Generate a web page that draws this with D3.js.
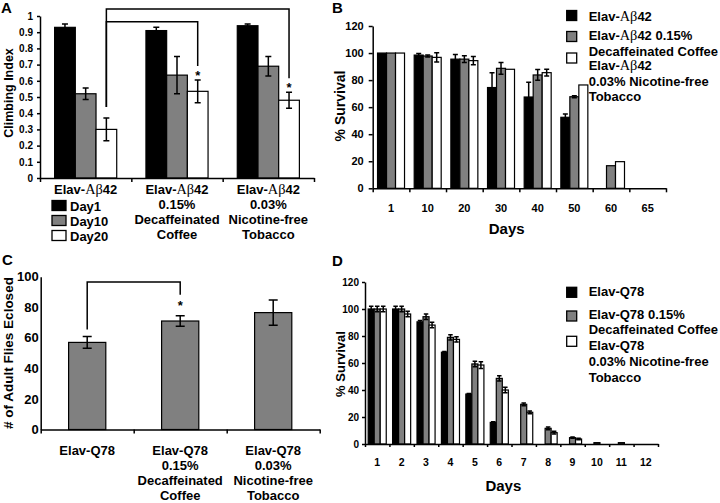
<!DOCTYPE html>
<html>
<head>
<meta charset="utf-8">
<script src="https://cdn.jsdelivr.net/npm/d3@7"></script>
<style>
body { margin: 0; background: #fff; }
svg { display: block; font-family: "Liberation Sans", Arial, sans-serif; font-weight: bold; }
.axis path, .axis line { stroke: #000; stroke-width: 1.5; }
.axis text { fill: #000; font-family: "Liberation Sans", Arial, sans-serif; font-weight: bold; }
</style>
</head>
<body>
<svg id="fig" width="720" height="503"></svg>
<script>
// ---- A: climbing index
const climbGroups = ['Elav-Aβ42', 'Elav-Aβ42 0.15% Decaffeinated Coffee', 'Elav-Aβ42 0.03% Nicotine-free Tobacco'];
const climbGroupLines = [
    ['Elav-Aβ42'],
    ['Elav-Aβ42', '0.15%', 'Decaffeinated', 'Coffee'],
    ['Elav-Aβ42', '0.03%', 'Nicotine-free', 'Tobacco']
];
const climbSeries = ['Day1', 'Day10', 'Day20'];
const climbDay1 = [0.93, 0.91, 0.94];
const climbDay10 = [0.52, 0.635, 0.69];
const climbDay20 = [0.30, 0.535, 0.48];
const climbErrDay1 = [0.02, 0.02, 0.01];
const climbErrDay10 = [0.035, 0.115, 0.06];
const climbErrDay20 = [0.07, 0.07, 0.05];
const climbTicks = [0, 0.1, 0.2, 0.3, 0.4, 0.5, 0.6, 0.7, 0.8, 0.9, 1];

// ---- B: survival, Abeta42
const abDays = ['1', '10', '20', '30', '40', '50', '60', '65'];
const abSeries = ['Elav-Aβ42', 'Elav-Aβ42 0.15% Decaffeinated Coffee', 'Elav-Aβ42 0.03% Nicotine-free Tobacco'];
const abLegendLines = [['Elav-Aβ42'], ['Elav-Aβ42 0.15%', 'Decaffeinated Coffee'], ['Elav-Aβ42', '0.03% Nicotine-free', 'Tobacco']];
const abSurv = [100, 98.5, 95.5, 74.5, 67.5, 52.5, 0, 0];
const abSurvCoffee = [100, 97.8, 95.5, 88.7, 83.8, 67.7, 16.7, 0];
const abSurvTobacco = [100, 96.8, 94.4, 88, 85.5, 76.4, 19.7, 0];
const abErr = [0, 1.2, 3.5, 11, 11, 2.5, 0, 0];
const abErrCoffee = [0, 0.8, 2.5, 4.3, 4, 0.8, 0, 0];
const abErrTobacco = [0, 3.5, 3, 0, 2.5, 0, 0, 0];
const survTicks = [0, 20, 40, 60, 80, 100, 120];

// ---- C: eclosion
const eclGroups = ['Elav-Q78', 'Elav-Q78 0.15% Decaffeinated Coffee', 'Elav-Q78 0.03% Nicotine-free Tobacco'];
const eclGroupLines = [
    ['Elav-Q78'],
    ['Elav-Q78', '0.15%', 'Decaffeinated', 'Coffee'],
    ['Elav-Q78', '0.03%', 'Nicotine-free', 'Tobacco']
];
const eclosed = [57, 71, 76.5];
const eclosedErr = [3.8, 3.5, 8.2];
const eclTicks = [0, 20, 40, 60, 80, 100];

// ---- D: survival, Q78
const qDays = ['1', '2', '3', '4', '5', '6', '7', '8', '9', '10', '11', '12'];
const qSeries = ['Elav-Q78', 'Elav-Q78 0.15% Decaffeinated Coffee', 'Elav-Q78 0.03% Nicotine-free Tobacco'];
const qLegendLines = [['Elav-Q78'], ['Elav-Q78 0.15%', 'Decaffeinated Coffee'], ['Elav-Q78', '0.03% Nicotine-free', 'Tobacco']];
const qSurv = [100, 100, 90.5, 68, 37, 16, 0, 0, 0, 0, 0, 0];
const qSurvCoffee = [100, 100, 94.3, 79, 59.3, 48.6, 29.4, 11.6, 4.7, 1, 1, 0];
const qSurvTobacco = [100, 96.3, 88.1, 77.5, 58.5, 40, 23.5, 8.4, 3.7, 0, 0, 0];
const qErr = [2, 2, 1, 0.5, 0.5, 0.5, 0, 0, 0, 0, 0, 0];
const qErrCoffee = [2, 2, 2, 2, 2, 2, 1, 1, 0.5, 0, 0, 0];
const qErrTobacco = [2, 2, 2, 2, 2.5, 2, 1, 1, 0.5, 0, 0, 0];

const fills = ['#000', '#808080', '#fff'];
const svg = d3.select('#fig');

// writes a string, drawing "Aβ" in a serif face like the original
function richText(sel, str) {
    const parts = str.split('Aβ');
    sel.append('tspan').text(parts[0]);
    if (parts.length > 1) {
        sel.append('tspan').attr('font-family', '"Liberation Serif", serif').attr('font-weight', 'normal')
            .attr('font-size', '1.1em').text('Aβ');
        sel.append('tspan').text(parts[1]);
    }
}

function groupedBars(g, cats, series, values, errs, xRange, y, pad, capW, colors) {
    const x0 = d3.scaleBand().domain(cats).range(xRange).paddingInner(pad).paddingOuter(pad / 2);
    const x1 = d3.scaleBand().domain(series).range([0, x0.bandwidth()]);
    const rows = [];
    series.forEach((s, si) => cats.forEach((c, ci) => rows.push({c, s, si, v: values[si][ci], e: errs[si][ci]})));
    g.selectAll('rect.bar').data(rows.filter(d => d.v > 0)).join('rect')
        .attr('class', 'bar')
        .attr('x', d => x0(d.c) + x1(d.s))
        .attr('y', d => y(d.v))
        .attr('width', x1.bandwidth())
        .attr('height', d => y(0) - y(d.v))
        .attr('fill', d => colors[d.si])
        .attr('stroke', '#000').attr('stroke-width', 1.2);
    const cx = d => x0(d.c) + x1(d.s) + x1.bandwidth() / 2;
    g.selectAll('path.err').data(rows.filter(d => d.v > 0 && d.e > 0)).join('path')
        .attr('class', 'err')
        .attr('d', d => `M${cx(d)},${y(d.v - d.e)}V${y(d.v + d.e)}` +
            `M${cx(d) - capW / 2},${y(d.v + d.e)}h${capW}M${cx(d) - capW / 2},${y(d.v - d.e)}h${capW}`)
        .attr('stroke', '#000').attr('stroke-width', 1.5).attr('fill', 'none');
    return {x0, x1};
}

function axes(g, n, xRange, y, yTicks, yFmt, ySize, yPad, yFont, xSize) {
    const xb = d3.scaleLinear().domain([0, n]).range(xRange);
    g.append('g').attr('class', 'axis').attr('transform', `translate(0,${y.range()[0]})`)
        .call(d3.axisBottom(xb).tickValues(d3.range(n + 1)).tickFormat('').tickSizeInner(xSize).tickSizeOuter(0));
    g.append('g').attr('class', 'axis').attr('transform', `translate(${xRange[0]},0)`)
        .call(d3.axisLeft(y).tickValues(yTicks).tickFormat(yFmt).tickSizeInner(ySize).tickSizeOuter(0).tickPadding(yPad))
        .selectAll('text').attr('font-size', yFont);
}

function catLabels(g, x0, lines, baseline, gap, size) {
    x0.domain().forEach((c, i) => {
        lines[i].forEach((ln, j) => {
            g.append('text').attr('x', x0(c) + x0.bandwidth() / 2).attr('y', baseline + j * gap)
                .attr('text-anchor', 'middle').attr('font-size', size).call(richText, ln);
        });
    });
}

function legend(g, lines, x, tops, baselines, size) {
    lines.forEach((ls, i) => {
        g.append('rect').attr('x', x).attr('y', tops[i]).attr('width', 10).attr('height', 10)
            .attr('fill', fills[i]).attr('stroke', '#000').attr('stroke-width', 1.3);
        ls.forEach((ln, j) => {
            g.append('text').attr('x', x + 22).attr('y', baselines[i][j]).attr('font-size', size).call(richText, ln);
        });
    });
}

function title(g, txt, x, y, size, rotate) {
    g.append('text').attr('text-anchor', 'middle').attr('font-size', size)
        .attr('transform', `translate(${x},${y})` + (rotate ? 'rotate(-90)' : '')).text(txt);
}

// ================= A
const gA = svg.append('g');
const yA = d3.scaleLinear().domain([0, 1]).range([178, 16]);
const A = groupedBars(gA, climbGroups, climbSeries, [climbDay1, climbDay10, climbDay20],
    [climbErrDay1, climbErrDay10, climbErrDay20], [40, 314], yA, 0.32, 6, fills);
axes(gA, 3, [40, 314], yA, climbTicks, d => (d === 0 || d === 1) ? d : d.toFixed(1), 3, 4, 10, 4);
catLabels(gA, A.x0, climbGroupLines, 193.5, 15, 13);
climbSeries.forEach((s, i) => {
    gA.append('rect').attr('x', 52).attr('y', 200.5 + i * 15).attr('width', 14).attr('height', 10)
        .attr('fill', fills[i]).attr('stroke', '#000').attr('stroke-width', 1.3);
    gA.append('text').attr('x', 70).attr('y', 210.5 + i * 15).attr('font-size', 13).text(s);
});
title(gA, 'Climbing Index', 13, 93, 12.5, true);
// significance brackets to Day20 bars
const day20x = i => A.x0(climbGroups[i]) + A.x1('Day20') + A.x1.bandwidth() / 2;
const day20top = i => yA(climbDay20[i] + climbErrDay20[i]);
const bracket = (g, x1, x2, top, b1, b2) => g.append('path')
    .attr('d', `M${x1},${b1}V${top}H${x2}V${b2}`).attr('fill', 'none').attr('stroke', '#000').attr('stroke-width', 1.5);
bracket(gA, day20x(0), day20x(2), yA(1.043), day20top(0) - 11, day20top(2) - 14);
bracket(gA, day20x(0), day20x(1), yA(0.965), day20top(0) - 11, day20top(1) - 14);
[1, 2].forEach(i => gA.append('text').attr('x', day20x(i)).attr('y', day20top(i))
    .attr('text-anchor', 'middle').attr('font-size', 13).text('*'));
gA.append('text').attr('x', 1).attr('y', 13).attr('font-size', 15).text('A');

// ================= B
const gB = svg.append('g');
const yB = d3.scaleLinear().domain([0, 120]).range([188.3, 26]);
const B = groupedBars(gB, abDays, abSeries, [abSurv, abSurvCoffee, abSurvTobacco],
    [abErr, abErrCoffee, abErrTobacco], [372.7, 666], yB, 0.264, 5, fills);
axes(gB, 8, [372.7, 666], yB, survTicks, d3.format('d'), 4, 5, 11, 4);
abDays.forEach(d => gB.append('text').attr('x', B.x0(d) + B.x0.bandwidth() / 2).attr('y', 211.5)
    .attr('text-anchor', 'middle').attr('font-size', 11).text(d));
title(gB, 'Days', 506.7, 233.5, 15, false);
title(gB, '% Survival', 345, 106, 14, true);
legend(gB, abLegendLines, 566.7, [10.5, 31.5, 53], [[20.5], [40, 55.5], [70, 85.5, 101]], 13);
gB.append('text').attr('x', 332).attr('y', 13).attr('font-size', 15).text('B');

// ================= C
const gC = svg.append('g');
const yC = d3.scaleLinear().domain([0, 100]).range([429.5, 276.7]);
const C = groupedBars(gC, eclGroups, ['n'], [eclosed], [eclosedErr], [40.7, 319.7], yC, 0.6, 9, ['#808080']);
axes(gC, 3, [40.7, 319.7], yC, eclTicks, d3.format('d'), 0, 2, 13, 4);
catLabels(gC, C.x0, eclGroupLines, 454.5, 15, 13);
title(gC, '# of Adult Flies Eclosed', 13, 353, 13.5, true);
const eclX = i => C.x0(eclGroups[i]) + C.x0.bandwidth() / 2;
const eclTop = i => yC(eclosed[i] + eclosedErr[i]);
bracket(gC, eclX(0), eclX(1), yC(96.5), eclTop(0) - 7, eclTop(1) - 21);
gC.append('text').attr('x', eclX(1)).attr('y', eclTop(1) - 6).attr('text-anchor', 'middle').attr('font-size', 13).text('*');
gC.append('text').attr('x', 2).attr('y', 265).attr('font-size', 15).text('C');

// ================= D
const gD = svg.append('g');
const yD = d3.scaleLinear().domain([0, 120]).range([444, 282]);
const D = groupedBars(gD, qDays, qSeries, [qSurv, qSurvCoffee, qSurvTobacco],
    [qErr, qErrCoffee, qErrTobacco], [365, 658], yD, 0.26, 4.5, fills);
axes(gD, 12, [365, 658], yD, survTicks, d3.format('d'), 3, 3, 10, 3);
qDays.forEach(d => gD.append('text').attr('x', D.x0(d) + D.x0.bandwidth() / 2).attr('y', 466)
    .attr('text-anchor', 'middle').attr('font-size', 10.5).text(d));
title(gD, 'Days', 503.3, 490.5, 15, false);
title(gD, '% Survival', 345, 364, 13, true);
legend(gD, qLegendLines, 566.7, [287.3, 311, 336.3], [[295.5], [318.5, 334], [350, 366, 381.5]], 13);
gD.append('text').attr('x', 332).attr('y', 266).attr('font-size', 15).text('D');
</script>
</body>
</html>
